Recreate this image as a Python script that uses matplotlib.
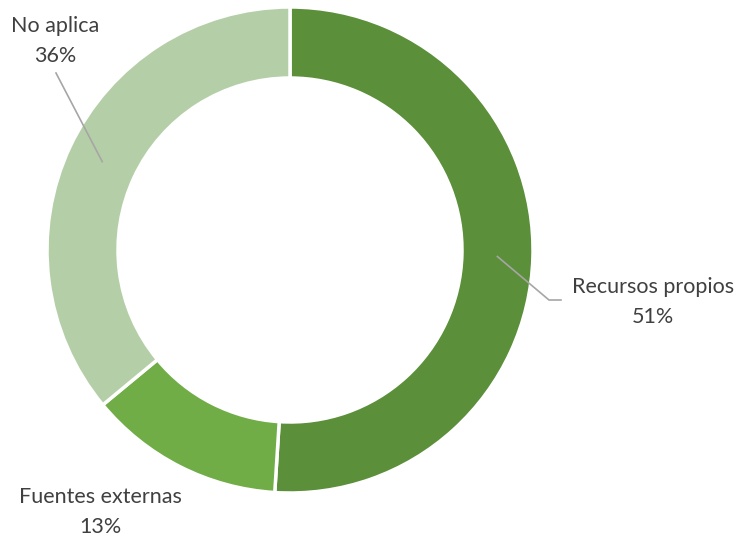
import numpy as np
import matplotlib
matplotlib.use("Agg")
from matplotlib import pyplot as plt

labels = ["Recursos propios", "Fuentes externas", "No aplica"]
shares = [51, 13, 36]
colors = ["#5B8F3A", "#70AD47", "#B4CFA7"]

W, H = 741, 537
fig = plt.figure(figsize=(W / 100, H / 100), dpi=100)
ax = fig.add_axes([0, 0, 1, 1])

cx, cy = 290, H - 250
r_out, ring = 243, 71

wedges, _ = ax.pie(shares, colors=colors, startangle=90, counterclock=False,
                   center=(cx, cy), radius=r_out, frame=True,
                   wedgeprops=dict(width=ring, edgecolor="white", linewidth=2.5))
ax.set_xlim(0, W)
ax.set_ylim(0, H)
ax.set_aspect("equal")
ax.axis("off")

font = dict(family=["Lato", "DejaVu Sans"], size=15.5, color="#404040",
            ha="center", va="center", linespacing=1.6)

# label positions (pixel coords from top)
pos = {"Recursos propios": (653, 302),
       "Fuentes externas": (100, 512),
       "No aplica": (55, 41)}
for lab, w, pct in zip(labels, wedges, shares):
    x, y = pos[lab]
    ax.text(x, H - y, "%s\n%d%%" % (lab, pct), **font)
    mid = np.deg2rad((w.theta1 + w.theta2) / 2)
    rm = r_out - ring / 2
    px, py = cx + rm * np.cos(mid), cy + rm * np.sin(mid)
    if lab == "No aplica":
        ax.plot([px, 56], [py, H - 73], color="#A6A6A6", lw=1.2)
    elif lab == "Recursos propios":
        ax.plot([px, 549, 561], [py, H - 300, H - 300], color="#A6A6A6", lw=1.2)

fig.savefig("out.png", dpi=100)
